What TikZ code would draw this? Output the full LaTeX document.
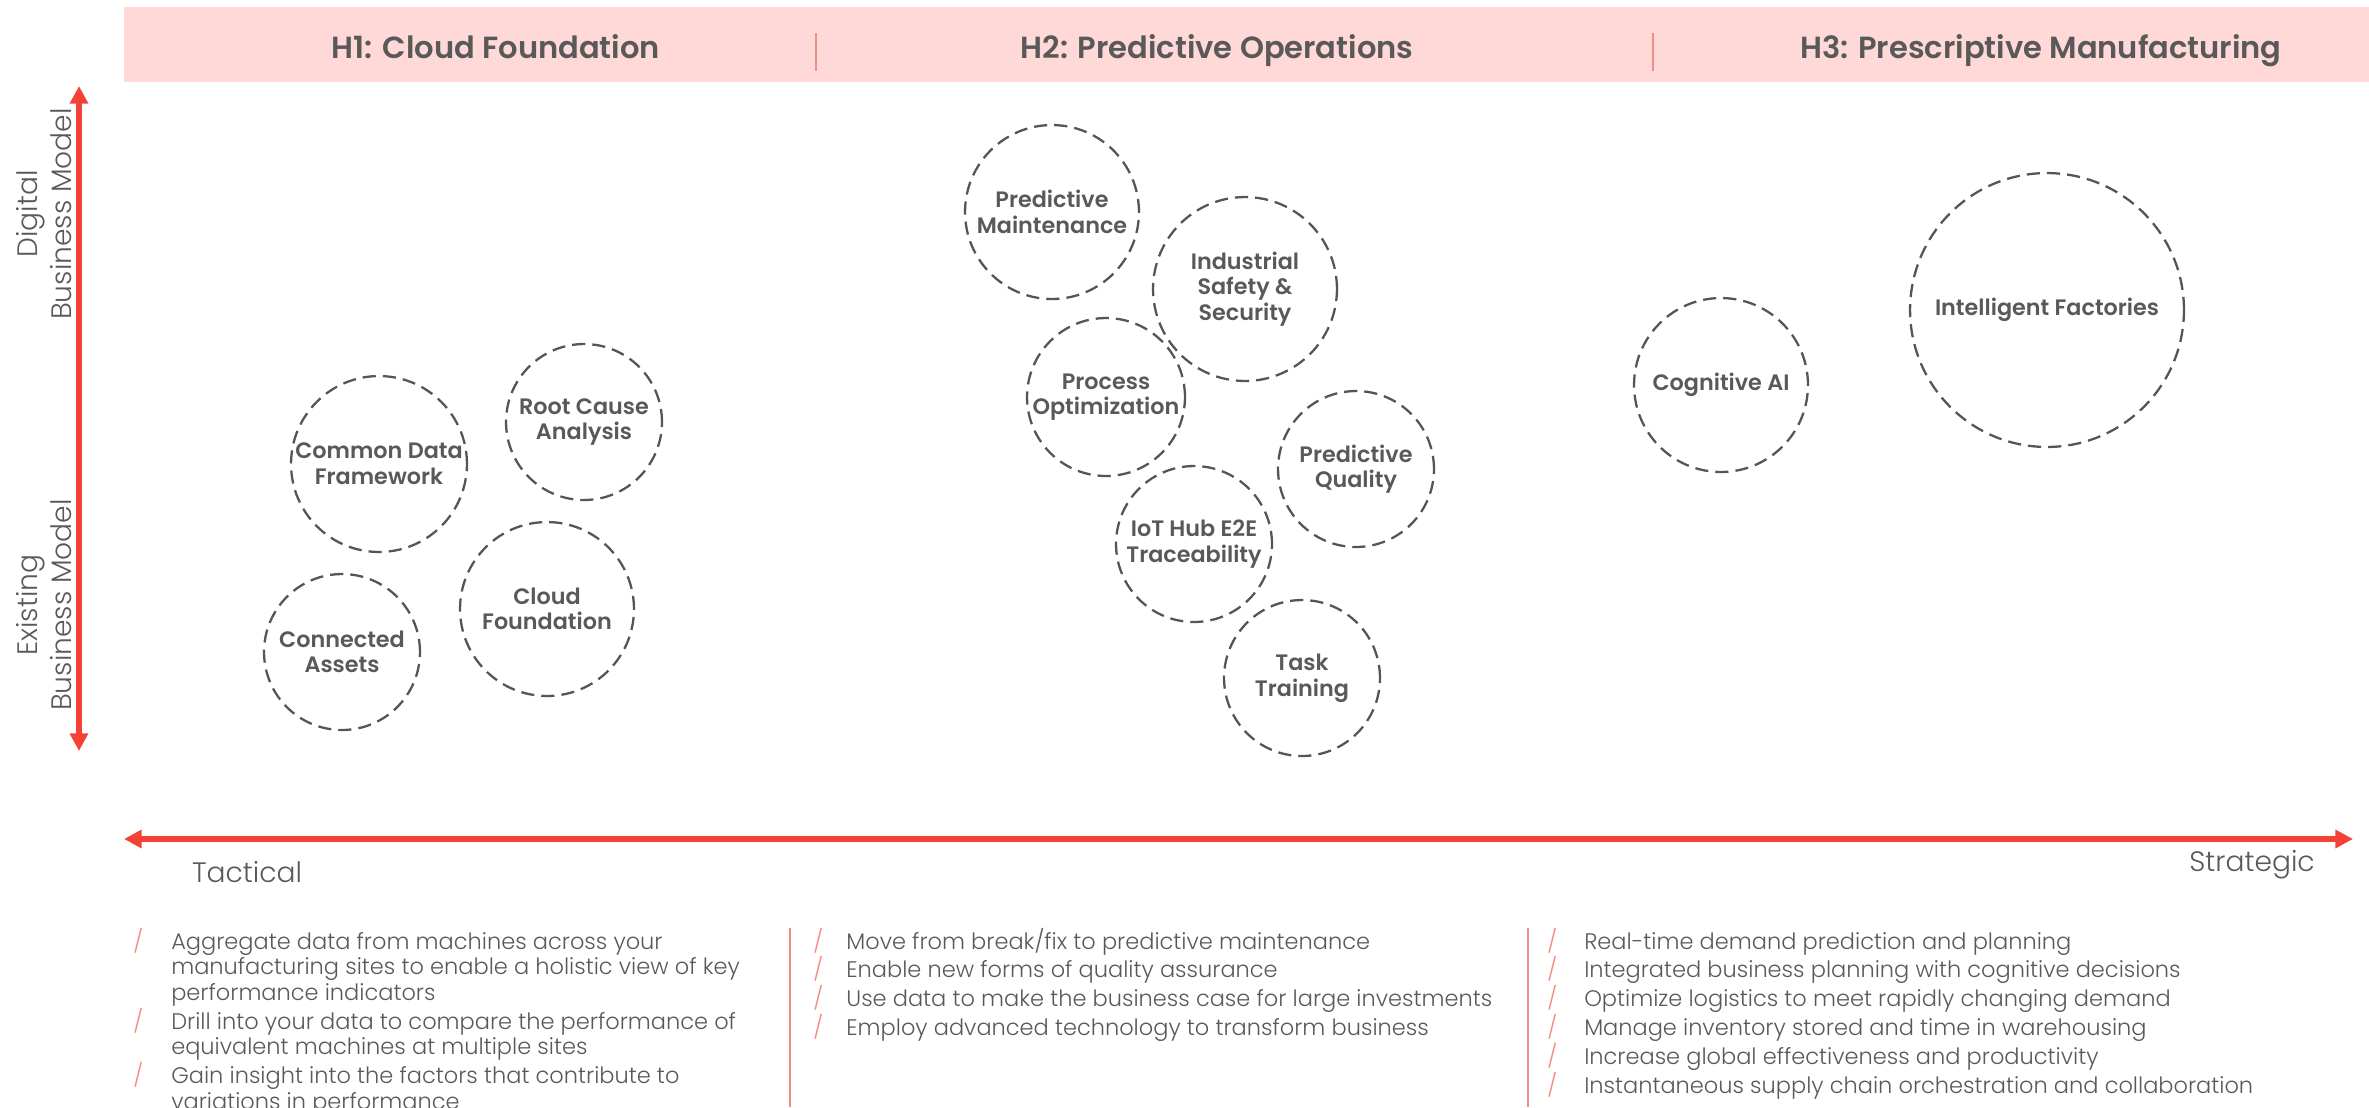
\documentclass[tikz,border=0pt]{standalone}
\usepackage{fontspec}
\usetikzlibrary{arrows.meta}
\IfFontExistsTF{Poppins Light}{\newfontfamily\lightfont{Poppins Light}}{\newfontfamily\lightfont{Poppins}}
\IfFontExistsTF{Poppins SemiBold}{\newfontfamily\boldfont{Poppins SemiBold}}{\newfontfamily\boldfontbase{Poppins}\newcommand\boldfont{\boldfontbase\bfseries}}
\definecolor{redax}{HTML}{F44336}
\definecolor{bandpink}{HTML}{FFD8D8}
\definecolor{salmon}{HTML}{F28B82}
\definecolor{txtgray}{HTML}{595959}
\definecolor{circgray}{HTML}{555555}
\newcommand\bslash{\textcolor{salmon}{/}}
\begin{document}
\begin{tikzpicture}[x=0.02cm,y=-0.02cm,
  bubble/.style={circle, draw=circgray, line width=1.3pt, dash pattern=on 7.5pt off 4pt,
    inner sep=0pt, align=center, text=txtgray, font=\boldfont\fontsize{12.7}{14.6}\selectfont},
  bub/.style={bubble, minimum size=#1*0.04cm},
  axisarrow/.style={draw=redax, line width=3.4pt, {Triangle[width=10pt,length=10pt]}-{Triangle[width=10pt,length=10pt]}},
  header/.style={anchor=base, text=txtgray, font=\boldfont\fontsize{17.4}{20}\selectfont},
  axislabel/.style={text=txtgray, font=\lightfont\fontsize{16}{19}\selectfont},
  bullets/.style={anchor=base west, inner sep=0pt, text=txtgray, font=\lightfont\fontsize{12.8}{14.6}\selectfont},
  divider/.style={draw=salmon, line width=0.8pt}
]
\useasboundingbox (0,0) rectangle (2369,1107);
% header band
\fill[bandpink] (124,7) rectangle (2369,82);
\draw[divider] (816,33) -- (816,71);
\draw[divider] (1653,33) -- (1653,71);
\node[header] (h1) at (496,58) {H1: Cloud Foundation};
\node[header] (h2) at (1217,58) {H2: Predictive Operations};
\node[header] (h3) at (2041,58) {H3: Prescriptive Manufacturing};

% axes
\coordinate (vtop) at (79,86);
\coordinate (vbot) at (79,751);
\coordinate (hleft) at (124,839);
\coordinate (hright) at (2353,839);
\draw[axisarrow] (vbot) -- (vtop);
\draw[axisarrow] (hleft) -- (hright);
\node[axislabel, rotate=90, align=center] (dig) at (44,214) {Digital\\Business Model};
\node[axislabel, rotate=90, align=center] (exi) at (44,605) {Existing\\Business Model};
\node[axislabel, anchor=base] (tac) at (247,882) {Tactical};
\node[axislabel, anchor=base] (str) at (2252,871) {Strategic};

% bubbles
\node[bub=88] (cdf) at (379,464) {Common Data\\Framework};
\node[bub=78] (rca) at (584,422) {Root Cause\\Analysis};
\node[bub=78] (ca) at (342,652) {Connected\\Assets};
\node[bub=87] (cf) at (547,609) {Cloud\\Foundation};
\node[bub=87] (pm) at (1052,212) {Predictive\\Maintenance};
\node[bub=92] (iss) at (1245,289) {Industrial\\Safety \&\\Security};
\node[bub=79] (po) at (1106,397) {Process\\Optimization};
\node[bub=78] (pq) at (1356,469) {Predictive\\Quality};
\node[bub=78] (iot) at (1194,544) {IoT Hub E2E\\Traceability};
\node[bub=78] (tt) at (1302,678) {Task\\Training};
\node[bub=87] (cai) at (1721,385) {Cognitive AI};
\node[bub=137] (ifa) at (2047,310) {Intelligent Factories};

% bullet columns
\draw[divider] (790,928) -- (790,1107);
\draw[divider] (1528,928) -- (1528,1107);
\node[bullets] (b1) at (133,949) {\begin{tabular}[t]{@{}p{21.6pt}@{}l@{}}
\bslash & Aggregate data from machines across your\\
 & manufacturing sites to enable a holistic view of key\\
 & performance indicators\\
\bslash & Drill into your data to compare the performance of\\
 & equivalent machines at multiple sites\\
\bslash & Gain insight into the factors that contribute to\\
 & variations in performance
\end{tabular}};
\node[bullets] (b2) at (813,949) {\begin{tabular}[t]{@{}p{18.8pt}@{}l@{}}
\bslash & Move from break/fix to predictive maintenance\\
\bslash & Enable new forms of quality assurance\\
\bslash & Use data to make the business case for large investments\\
\bslash & Employ advanced technology to transform business
\end{tabular}};
\node[bullets] (b3) at (1547,949) {\begin{tabular}[t]{@{}p{21pt}@{}l@{}}
\bslash & Real-time demand prediction and planning\\
\bslash & Integrated business planning with cognitive decisions\\
\bslash & Optimize logistics to meet rapidly changing demand\\
\bslash & Manage inventory stored and time in warehousing\\
\bslash & Increase global effectiveness and productivity\\
\bslash & Instantaneous supply chain orchestration and collaboration
\end{tabular}};
\end{tikzpicture}
\end{document}
